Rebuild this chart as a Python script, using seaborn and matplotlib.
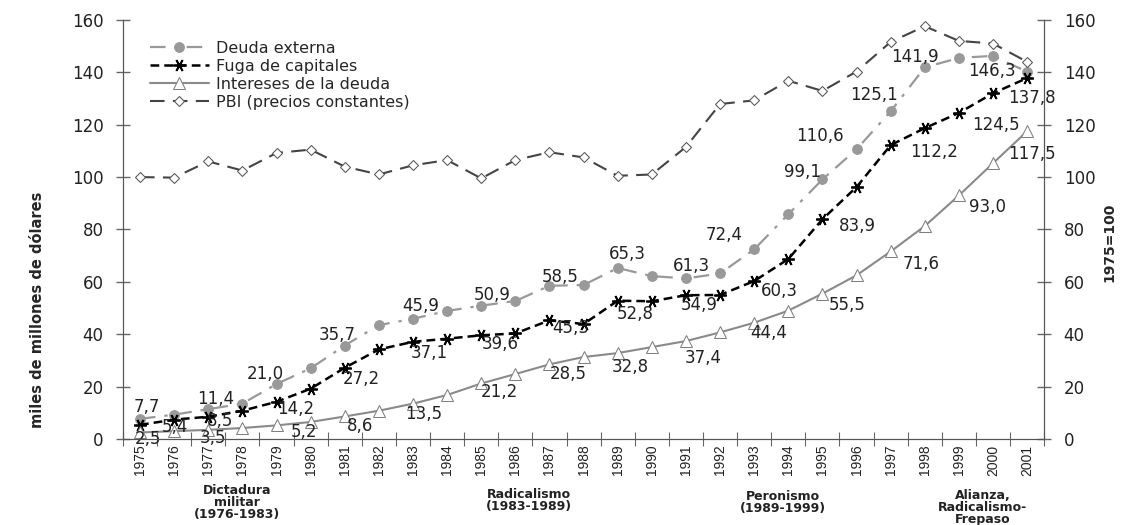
import pandas as pd
import seaborn as sns
import matplotlib.pyplot as plt

# ---- datos
years = list(range(1975, 2002))
deuda = [7.7, 9.3, 11.4, 13.5, 21.0, 27.0, 35.7, 43.5, 45.9, 48.9, 50.9, 52.7, 58.5, 58.8,
         65.3, 62.2, 61.3, 63.2, 72.4, 85.8, 99.1, 110.6, 125.1, 141.9, 145.5, 146.3, 140.2]
fuga = [5.4, 7.4, 8.5, 10.8, 14.2, 19.2, 27.2, 34.2, 37.1, 38.3, 39.6, 40.3, 45.3, 43.9,
        52.8, 52.6, 54.9, 55.0, 60.3, 68.7, 83.9, 96.2, 112.2, 118.7, 124.5, 132.0, 137.8]
intereses = [2.5, 3.0, 3.5, 4.2, 5.2, 6.5, 8.6, 10.8, 13.5, 16.8, 21.2, 24.8, 28.5, 31.3,
             32.8, 35.1, 37.4, 40.7, 44.4, 49.0, 55.5, 62.5, 71.6, 81.3, 93.0, 105.3, 117.5]
pbi = [100.0, 99.8, 106.0, 102.5, 109.2, 110.5, 104.0, 101.0, 104.5, 106.5, 99.5, 106.5,
       109.5, 107.5, 100.5, 101.0, 111.5, 127.9, 129.3, 136.8, 132.9, 140.3, 151.6, 157.6,
       152.0, 151.0, 144.0]

# años con etiqueta de valor
lab_deuda = [1975, 1977, 1979, 1981, 1983, 1985, 1987, 1989, 1991, 1993, 1995, 1996, 1997, 1998, 2000]
lab_fuga = [1975, 1977, 1979, 1981, 1983, 1985, 1987, 1989, 1991, 1993, 1995, 1997, 1999, 2001]
lab_int = [1975, 1977, 1979, 1981, 1983, 1985, 1987, 1989, 1991, 1993, 1995, 1997, 1999, 2001]

periodos = ["Dictadura\nmilitar\n(1976-1983)", "Radicalismo\n(1983-1989)",
            "Peronismo\n(1989-1999)", "Alianza,\nRadicalismo-\nFrepaso"]
periodos_x = [1977.85, 1986.4, 1993.85, 1999.7]
periodos_y = [-0.108, -0.118, -0.121, -0.12]

df = pd.DataFrame({"year": years, "deuda": deuda, "fuga": fuga,
                   "intereses": intereses, "pbi": pbi})

sns.set_style("ticks")
plt.rcParams['font.family'] = ['DejaVu Sans']

fig = plt.figure(figsize=(11.24, 5.25), dpi=100)
ax = fig.add_axes([0.1094, 0.1638, 0.8196, 0.7982])
ax2 = ax.twinx()

sns.lineplot(data=df, x="year", y="deuda", ax=ax, color="#999999", lw=1.6,
             linestyle=(0, (7, 4, 1.5, 4)), marker="o", markersize=7,
             markeredgecolor="#999999", label="Deuda externa", legend=False)
sns.lineplot(data=df, x="year", y="fuga", ax=ax, color="black", lw=1.8,
             linestyle=(0, (3.5, 2)), marker=(6, 2, 90), markersize=9,
             markeredgecolor="black", markeredgewidth=1.3,
             label="Fuga de capitales", legend=False)
sns.lineplot(data=df, x="year", y="intereses", ax=ax, color="#8a8a8a", lw=1.5,
             marker="^", markersize=8, markerfacecolor="white",
             markeredgecolor="#808080", label="Intereses de la deuda", legend=False)
sns.lineplot(data=df, x="year", y="pbi", ax=ax2, color="#444444", lw=1.5,
             linestyle=(0, (7, 4)), marker="D", markersize=5, markerfacecolor="white",
             markeredgecolor="#555555", label="PBI (precios constantes)", legend=False)

# etiquetas de valores (desplazamientos en píxeles)
off_deuda = {1975: (7, 12), 1977: (7, 10), 1979: (-11, 10), 1981: (-8, 11), 1983: (8, 13),
             1985: (11, 11), 1987: (11, 9), 1989: (10, 14), 1991: (5, 12), 1993: (-30, 14),
             1995: (-20, 7), 1996: (-37, 13), 1997: (-17, 16), 1998: (-10, 10), 2000: (-1, -15)}
off_fuga = {1975: (35, -2), 1977: (12, -4), 1979: (19, -7), 1981: (17, -11), 1983: (16, -11),
            1985: (19, -9), 1987: (21, -8), 1989: (18, -13), 1991: (13, -10), 1993: (25, -10),
            1995: (35, -7), 1997: (43, -7), 1999: (37, -12), 2001: (5, -20)}
off_int = {1975: (8, -7), 1977: (5, -8), 1979: (27, -7), 1981: (15, -10), 1983: (11, -10),
           1985: (18, -9), 1987: (19, -10), 1989: (13, -14), 1991: (17, -17), 1993: (15, -10),
           1995: (25, -11), 1997: (30, -13), 1999: (29, -12), 2001: (5, -23)}

for lab_years, col, offs in [(lab_deuda, "deuda", off_deuda), (lab_fuga, "fuga", off_fuga),
                             (lab_int, "intereses", off_int)]:
    for y in lab_years:
        v = df.loc[df.year == y, col].iloc[0]
        ax.annotate(f"{v:.1f}".replace(".", ","), (y, v), xytext=offs[y],
                    textcoords="offset pixels", ha="center", va="center",
                    fontsize=12, color="#222222")

for a in (ax, ax2):
    a.set_ylim(0, 160)
    a.set_yticks(range(0, 161, 20))
    a.tick_params(axis="y", direction="inout", length=10, width=1, color="#666666",
                  labelsize=12, labelcolor="#222222", pad=9)
    a.spines["top"].set_visible(False)
    for s in ("left", "right", "bottom"):
        a.spines[s].set_color("#555555")
ax.set_xlim(1974.5, 2001.5)
ax.set_xticks([y + 0.5 for y in range(1974, 2002)])
ax.set_xticklabels([])
ax.set_xticks(years, minor=True)
ax.set_xticklabels([str(y) for y in years], minor=True, rotation=90, fontsize=10,
                   color="#222222", family="Liberation Sans")
ax.tick_params(axis="x", which="major", direction="inout", length=10, color="#666666")
ax.tick_params(axis="x", which="minor", length=0, pad=4)
ax.set_xlabel("")
ax.set_ylabel("miles de millones de dólares", fontsize=10.5, fontweight="bold",
              family="Liberation Sans Narrow")
ax.yaxis.set_label_coords(-0.085, 0.308)
ax2.set_ylabel("1975=100", fontsize=10, fontweight="bold", family="Liberation Sans Narrow")
ax2.yaxis.set_label_coords(1.063, 0.47)

for txt, xp, yp in zip(periodos, periodos_x, periodos_y):
    ax.text(xp, yp, txt, transform=ax.get_xaxis_transform(), ha="center", va="top",
            fontsize=9, fontweight="bold", color="#222222", linespacing=0.9)

h1, l1 = ax.get_legend_handles_labels()
h2, l2 = ax2.get_legend_handles_labels()
ax2.legend(h1 + h2, l1 + l2, loc="upper left", bbox_to_anchor=(0.029, 0.95), frameon=False,
           fontsize=11.5, handlelength=3.7, handletextpad=0.45, labelspacing=0.18,
           borderaxespad=0, borderpad=0)

fig.savefig("out.png", dpi=100)
